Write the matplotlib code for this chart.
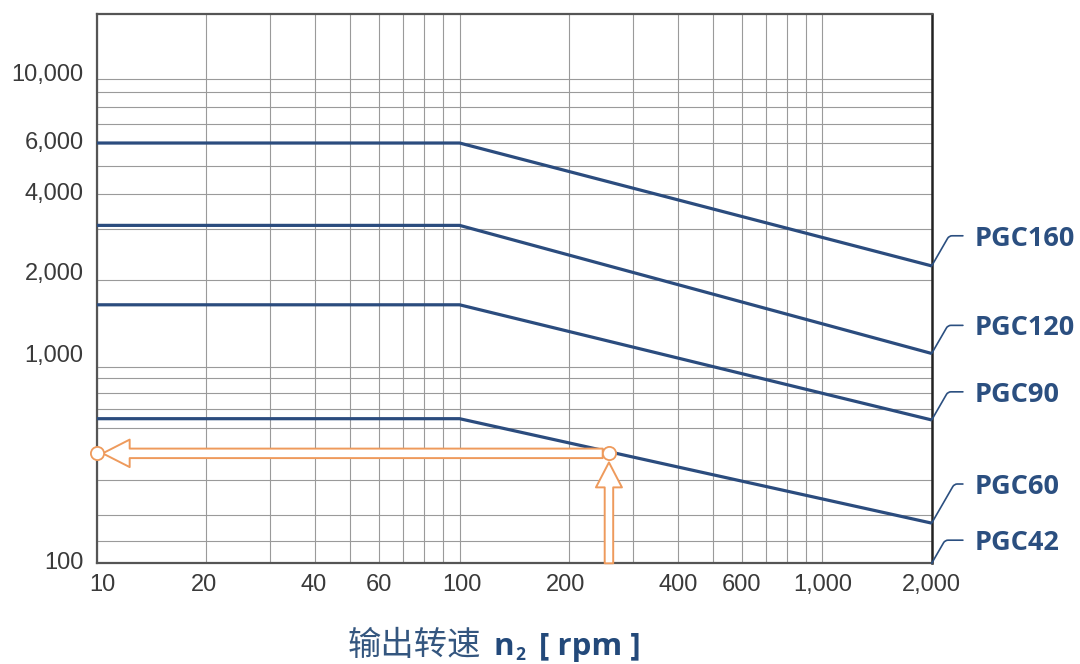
import numpy as np
import matplotlib
matplotlib.use("Agg")
import matplotlib.pyplot as plt
from matplotlib.transforms import blended_transform_factory, offset_copy
from matplotlib.ticker import NullFormatter

# ---------------- data ----------------
speed_points = [10, 100, 2000]                 # output speed n2 [rpm]
models = ["PGC160", "PGC120", "PGC90", "PGC60", "PGC42"]
torque_pgc160 = [6000, 6000, 2240]
torque_pgc120 = [3100, 3100, 1110]
torque_pgc90 = [1640, 1640, 535]
torque_pgc60 = [543, 543, 160]
label_anchor_torque = [2240, 1110, 535, 160, 100]   # PGC42 points at the axis floor
example_speed = 258
example_torque = 362

x_ticks = [10, 20, 40, 60, 100, 200, 400, 600, 1000, 2000]
x_tick_labels = ["10", "20", "40", "60", "100", "200", "400", "600", "1,000", "2,000"]
x_minor = [30, 50, 70, 80, 90, 300, 500, 700, 800, 900]
y_ticks = [100, 1000, 2000, 4000, 6000, 10000]
y_tick_labels = ["100", "1,000", "2,000", "4,000", "6,000", "10,000"]
y_minor = [130, 175, 265, 485, 605, 735, 870, 3000, 5000, 7000, 8000, 9000]
y_top = 16880

# ---------------- style ----------------
W, H = 1080, 664
blue = "#2b4c7e"
label_blue = "#2b4f80"
orange = "#ee9a5c"
grid_c = "#9a9a9a"
tick_c = "#3a3a3a"

fig = plt.figure(figsize=(W / 100, H / 100), dpi=100)
fig.subplots_adjust(left=96.7 / W, right=931.7 / W, bottom=1 - 563.3 / H, top=1 - 14 / H)
ax = fig.add_subplot(111)

# piecewise logarithmic torque axis (lower decade is compressed in the original)
A = 196.8 / 287.2


def fwd(y):
    ly = np.log10(np.clip(np.asarray(y, float), 1e-6, None))
    return np.where(ly <= 3, (ly - 2) * A, A + ly - 3)


def inv(t):
    t = np.asarray(t, float)
    with np.errstate(over="ignore"):
        return np.where(t <= A, 10 ** (2 + t / A), 10 ** (3 + t - A))


ax.set_xscale("log")
ax.set_yscale("function", functions=(fwd, inv))
ax.set_xlim(10, 2000)
ax.set_ylim(100, y_top)

ax.set_xticks(x_ticks)
ax.set_xticks(x_minor, minor=True)
ax.set_yticks(y_ticks)
ax.set_yticks(y_minor, minor=True)
ax.xaxis.set_minor_formatter(NullFormatter())
ax.yaxis.set_minor_formatter(NullFormatter())
ax.tick_params(which="both", length=0, labelbottom=False, labelleft=False)
ax.grid(True, which="both", color=grid_c, lw=0.8)
ax.set_axisbelow(True)

for s in ["left", "bottom", "top"]:
    ax.spines[s].set_color("#555555")
    ax.spines[s].set_linewidth(1.6)
ax.spines["right"].set_color("#222222")
ax.spines["right"].set_linewidth(1.8)

# manual tick labels (the original sets some slightly off their gridlines)
tick_font = dict(family=["Liberation Sans", "DejaVu Sans"], fontsize=17, color=tick_c)
y_label_dy = [0, 11, 6, 0, 0, 4]
ytr = blended_transform_factory(ax.transAxes, ax.transData)
for v, lab, dy in zip(y_ticks, y_tick_labels, y_label_dy):
    ax.text(0, v, lab, ha="right", va="center",
            transform=offset_copy(ytr, fig=fig, x=-13, y=dy, units="dots"), **tick_font)

x_label_dx = [6, -2, -2, 0, 2, -3, 0, 0, 0, 0]
xtr = blended_transform_factory(ax.transData, ax.transAxes)
for v, lab, dx in zip(x_ticks, x_tick_labels, x_label_dx):
    ax.text(v, 0, lab, ha="center", va="top",
            transform=offset_copy(xtr, fig=fig, x=dx, y=-11, units="dots"), **tick_font)

# model curves
for series in [torque_pgc160, torque_pgc120, torque_pgc90, torque_pgc60]:
    ax.plot(speed_points, series, color=blue, lw=2.3, solid_capstyle="butt", zorder=3)

# example read-off arrows
ax.annotate("", xy=(speed_points[0], example_torque), xytext=(example_speed, example_torque),
            arrowprops=dict(arrowstyle="simple,head_length=0.54,head_width=0.55,tail_width=0.19",
                            mutation_scale=36, fc="white", ec=orange, lw=1.4,
                            shrinkA=4.5, shrinkB=4.3), zorder=4)
ax.annotate("", xy=(example_speed, example_torque), xytext=(example_speed, 100),
            arrowprops=dict(arrowstyle="simple,head_length=0.5,head_width=0.52,tail_width=0.17",
                            mutation_scale=36, fc="white", ec=orange, lw=1.4,
                            shrinkA=0, shrinkB=6.5), zorder=4)
ax.plot([speed_points[0], example_speed], [example_torque, example_torque], "o", ms=9.5,
        mfc="white", mec=orange, mew=1.3, zorder=5, clip_on=False)

# right-hand model labels
label_dy = [27, 25, 25, 36, 20]
for name, val, dy in zip(models, label_anchor_torque, label_dy):
    ax.annotate(name, xy=(speed_points[-1], val), xytext=(43, dy), textcoords="offset pixels",
                ha="left", va="center", fontsize=19.5, fontweight="bold",
                family=["Open Sans", "DejaVu Sans"], color=label_blue, annotation_clip=False,
                arrowprops=dict(arrowstyle="-", color=label_blue, lw=1.2,
                                connectionstyle="angle,angleA=0,angleB=60,rad=3",
                                relpos=(0, 0.62), shrinkA=8.5, shrinkB=0, patchA=None))

# x-axis title: 输出转速 n2 [ rpm ]
base_y = 9 / H
title_c1 = "#34567f"
title_c2 = "#23497a"
t1 = fig.text(348 / W, base_y, "输出转速", fontsize=24, color=title_c1,
              family=["Noto Sans CJK SC", "DejaVu Sans"], ha="left", va="baseline")
fig.canvas.draw()
r = fig.canvas.get_renderer()
x1 = t1.get_window_extent(r).x1
t2 = fig.text((x1 + 12) / W, base_y, "n", fontsize=22.5, fontweight="bold", color=title_c2,
              family=["Open Sans", "DejaVu Sans"], ha="left", va="baseline")
x2 = t2.get_window_extent(r).x1
t3 = fig.text((x2 + 1) / W, base_y - 5 / H, "2", fontsize=12.5, fontweight="bold", color=title_c2,
              family=["Open Sans", "DejaVu Sans"], ha="left", va="baseline")
x3 = t3.get_window_extent(r).x1
fig.text((x3 + 14) / W, base_y, "[ rpm ]", fontsize=22.5, fontweight="bold", color=title_c2,
         family=["Open Sans", "DejaVu Sans"], ha="left", va="baseline")

fig.savefig("out.png", dpi=100, facecolor="white")
